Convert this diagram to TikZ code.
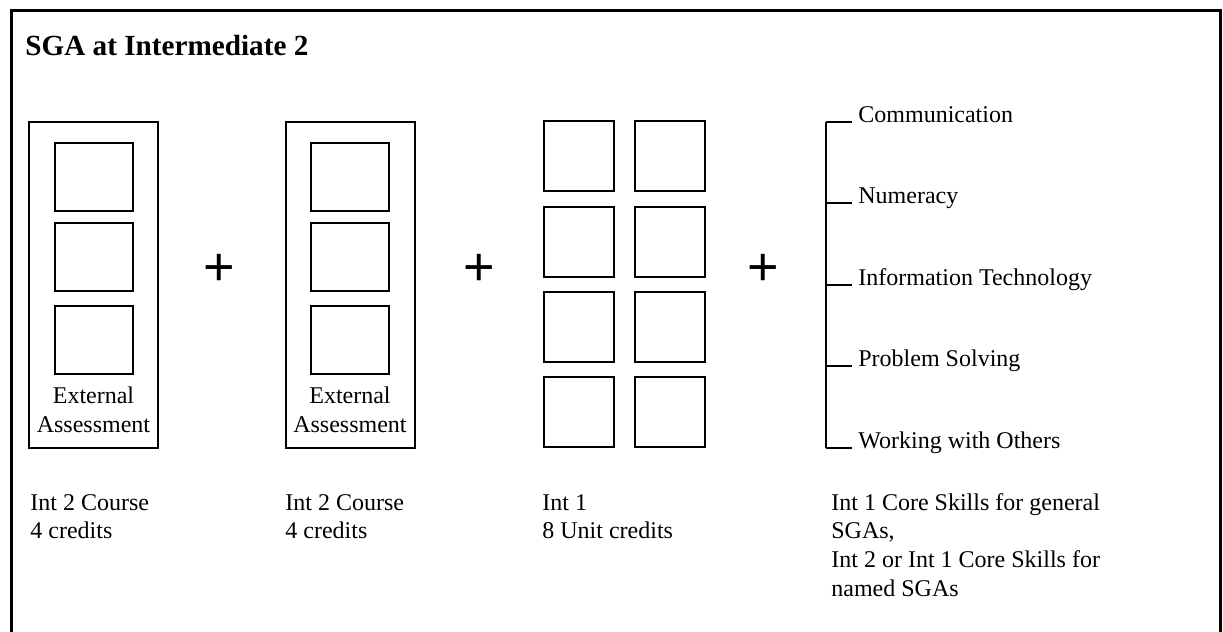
\documentclass[tikz,border=0pt]{standalone}
\usepackage{fontspec}
\setmainfont{Liberation Serif}
\newfontfamily\plusfont{Liberation Sans}
\begin{document}
\begin{tikzpicture}[x=0.5pt,y=-0.5pt,
  outerframe/.style={line width=1.5pt},
  holder/.style={draw,line width=1pt,minimum width=64.5pt,minimum height=163pt,inner sep=0pt},
  courseunit/.style={draw,line width=1pt,minimum width=39pt,minimum height=34pt,inner sep=0pt},
  gridunit/.style={draw,line width=1pt,minimum width=35pt,minimum height=35pt,inner sep=0pt},
  plussign/.style={font=\plusfont\fontsize{27}{27}\selectfont,inner sep=0pt},
  bodytext/.style={font=\fontsize{12}{14.4}\selectfont,inner sep=0pt,align=left,anchor=base west},
  assess/.style={anchor=base,inner sep=0pt,align=center,font=\fontsize{12}{14.5}\selectfont},
  skill/.style={font=\fontsize{12}{14.4}\selectfont,inner sep=0pt,anchor=base west},
  bracketline/.style={line width=1pt}
]
\useasboundingbox (0,0) rectangle (1223,632);
% page frame, open at the bottom edge
\draw[outerframe] (11,660) -- (11,10) -- (1220,10) -- (1220,660);

% title
\node[anchor=base west,inner sep=0pt,font=\bfseries\fontsize{14.6}{17}\selectfont] (title) at (25,55) {SGA at Intermediate 2};

% first Int 2 course (multi-line nodes are placed by the baseline of their last line)
\node[holder] (courseA) at (93.5,285) {};
\node[courseunit] (a1) at (94,177) {};
\node[courseunit] (a2) at (94,257) {};
\node[courseunit] (a3) at (94,339.5) {};
\node[assess] (extA) at (93.5,432) {External\\Assessment};

\node[plussign] (plus1) at (219,270) {+};

% second Int 2 course
\node[holder] (courseB) at (350,285) {};
\node[courseunit] (b1) at (350,177) {};
\node[courseunit] (b2) at (350,257) {};
\node[courseunit] (b3) at (350,339.5) {};
\node[assess] (extB) at (350,432) {External\\Assessment};

\node[plussign] (plus2) at (479,270) {+};

% eight Int 1 units
\foreach \r/\y in {1/156,2/242,3/327,4/412}{
  \node[gridunit] (u\r l) at (579,\y) {};
  \node[gridunit] (u\r r) at (670,\y) {};
}

\node[plussign] (plus3) at (763,270) {+};

% core skills bracket
\coordinate (bt) at (826,122);
\coordinate (bb) at (826,448);
\draw[bracketline] (bt) -- (bb);
\foreach \n/\y/\t in {1/122/Communication,2/203/Numeracy,3/285/Information Technology,4/366/Problem Solving,5/448/Working with Others}{
  \coordinate (k\n) at (826,\y);
  \coordinate (e\n) at (852,\y);
  \draw[bracketline] (k\n) -- (e\n);
  \node[skill] (s\n) at (858,\y) {\t};
}

% captions
\node[bodytext] (capA) at (30,538.8) {Int 2 Course\\4 credits};
\node[bodytext] (capB) at (285,538.8) {Int 2 Course\\4 credits};
\node[bodytext] (capC) at (542,538.8) {Int 1\\8 Unit credits};
\node[bodytext] (capD) at (831,596.4) {Int 1 Core Skills for general\\SGAs,\\Int 2 or Int 1 Core Skills for\\named SGAs};
\end{tikzpicture}
\end{document}
